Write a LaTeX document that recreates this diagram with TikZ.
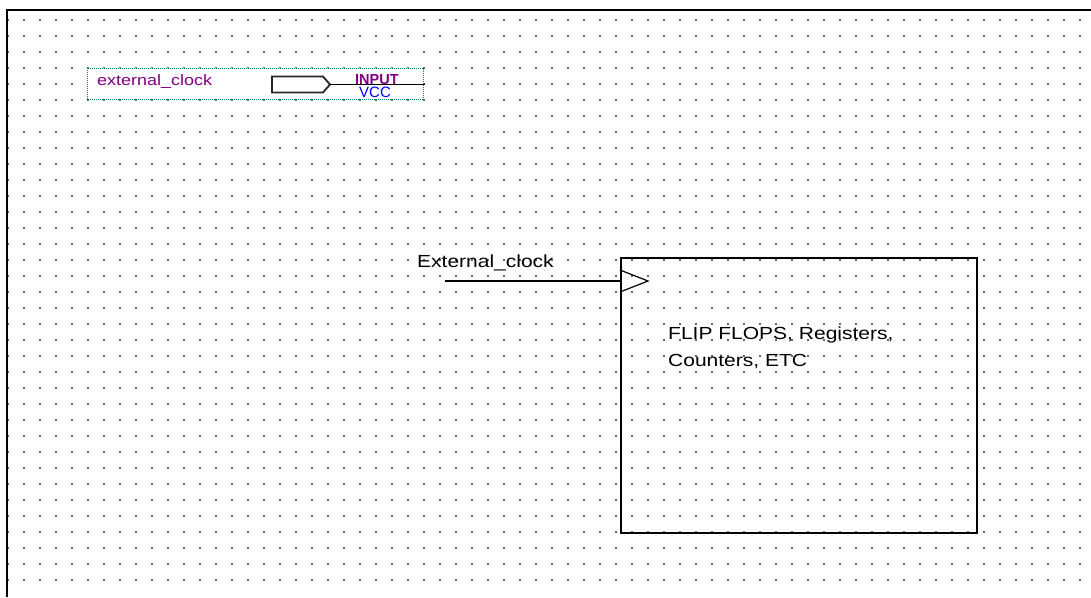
\documentclass[tikz,border=0pt]{standalone}
\usepackage{fontspec}
\setmainfont{Liberation Sans}
\newfontfamily\pxfont[FakeStretch=1.2]{Liberation Sans}
\definecolor{pinpurple}{RGB}{128,0,128}
\definecolor{pinblue}{RGB}{0,0,255}
\definecolor{pinteal}{RGB}{0,128,128}
\definecolor{griddot}{RGB}{100,100,100}
\begin{document}
\begin{tikzpicture}[x=1pt,y=-1pt,
  lbl/.style={inner sep=0pt,anchor=base west,font=\pxfont\fontsize{17.5}{20}\selectfont},
  pinlbl/.style={inner sep=0pt,anchor=base west,text=pinpurple,font=\pxfont\fontsize{15}{18}\selectfont},
  pinbox/.style={draw=pinteal,line width=1pt,dash pattern=on 1pt off 1pt,fill=white},
  wire/.style={line width=1.6pt,black},
  blockbox/.style={draw,line width=1.8pt,inner sep=0pt,minimum width=356pt,minimum height=275pt}]
\useasboundingbox (0,0) rectangle (1091,597);
\fill[white] (0,0) rectangle (1091,597);
% dot grid
\foreach \i in {0,...,67}{
  \foreach \j in {0,...,35}{
    \fill[griddot] ({8+16*\i-0.8},{20+16*\j-0.8}) rectangle ++(1.6,1.6);
  }
}
% frame
\draw[line width=2pt,black] (1091,10) -- (7,10) -- (7,597);
% input pin
\draw[pinbox] (87,68) rectangle (423,99);
\node[pinlbl] (pinname) at (97,85) {external\_clock};
\draw[line width=1.8pt,black!85,fill=white] (272,76.5) -- (323,76.5) -- (330,84.5) -- (323,92.5) -- (272,92.5) -- cycle;
\coordinate (pintip) at (330,84.5);
\coordinate (pinend) at (425,84.5);
\draw[wire] (pintip) -- (pinend);
\node[inner sep=0pt,anchor=base west,text=pinpurple,font=\bfseries\fontsize{14.5}{16}\selectfont] (input) at (355,84) {INPUT};
\node[inner sep=0pt,anchor=base west,text=pinblue,font=\fontsize{15}{17}\selectfont] (vcc) at (359,97) {VCC};
% block
\node[blockbox,anchor=north west] (blk) at (620,257) {};
\coordinate (clkin) at (445,281);
\draw[wire] (clkin) -- (clkin -| blk.west);
\draw[line width=1.2pt] ([yshift=-11pt]blk.north west |- clkin) -- ([xshift=28pt]blk.west |- clkin) -- ([yshift=11pt]blk.north west |- clkin);
\node[lbl] (clklbl) at (417,267) {External\_clock};
\node[lbl] (txt1) at (668,339) {FLIP FLOPS, Registers,};
\node[lbl] (txt2) at (668,366) {Counters, ETC};
\end{tikzpicture}
\end{document}
